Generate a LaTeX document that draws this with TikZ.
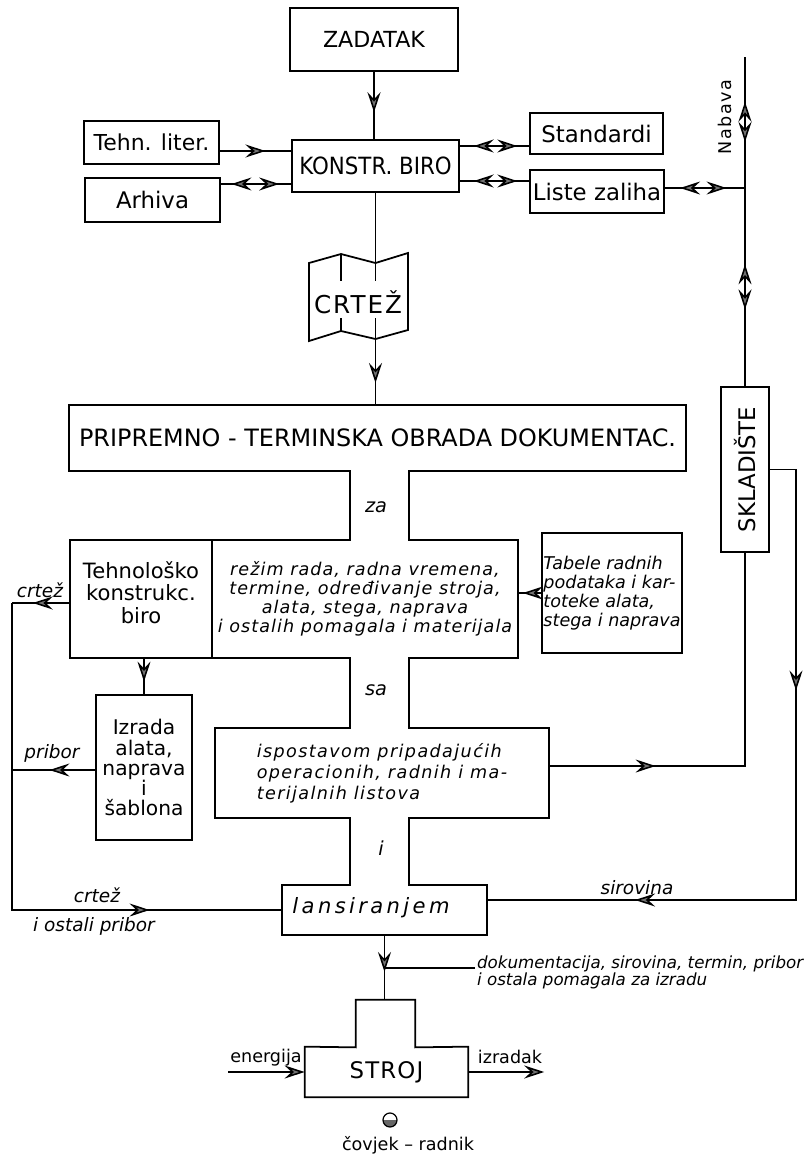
\documentclass[tikz,border=0pt]{standalone}
\usepackage{fontspec}
\setmainfont{DejaVu Sans}
\usetikzlibrary{arrows.meta,calc,decorations.markings}

\tikzset{
  flowtip/.tip={Stealth[length=4mm, width=2.6mm, inset=1.4mm, fill=black!55]},
  chartbox/.style={draw, line width=1pt, inner sep=1pt, align=center},
  region/.style={inner sep=0pt, align=center},
  frame/.style={line width=1pt, line join=miter},
  flow/.style={line width=0.9pt},
  tipat/.style={postaction={decorate, decoration={markings,
      mark=at position #1 with {\arrow{flowtip}}}}},
  tipback/.style={postaction={decorate, decoration={markings,
      mark=at position #1 with {\arrowreversed{flowtip}}}}},
  twoway/.style 2 args={tipback=#1, tipat=#2},
  plainlabel/.style={inner sep=1pt, align=center, font=\fontsize{10}{11}\selectfont},
  notelabel/.style={inner sep=1pt, align=center, font=\fontsize{10.5}{12}\selectfont\itshape},
}

\begin{document}
\begin{tikzpicture}[x=0.2mm, y=-0.2mm]
  \useasboundingbox (0,0) rectangle (811,1157);

  % upper row: task, design office and its sources
  \node[chartbox, minimum width=33.6mm, minimum height=12.6mm, font=\fontsize{12.6}{14}\selectfont] (zadatak) at (374,39.5) {ZADATAK};
  \node[chartbox, minimum width=33.4mm, minimum height=10.4mm, font=\fontsize{13.5}{15}\selectfont\addfontfeature{FakeStretch=0.9}] (konstr) at (375.5,166) {KONSTR. BIRO};
  \node[chartbox, minimum width=27mm, minimum height=8.6mm, font=\fontsize{12.5}{14}\selectfont] (tehn) at (151.5,142.5) {Tehn. liter.};
  \node[chartbox, minimum width=27mm, minimum height=8.8mm, font=\fontsize{13}{15}\selectfont] (arhiva) at (152.5,200) {Arhiva};
  \node[chartbox, minimum width=26.6mm, minimum height=8.2mm, font=\fontsize{13}{15}\selectfont] (standardi) at (596.5,133.5) {Standardi};
  \node[chartbox, minimum width=26.8mm, minimum height=8.6mm, font=\fontsize{13}{15}\selectfont] (liste) at (597,191.5) {Liste zaliha};
  \node[rotate=90, inner sep=1pt, font=\fontsize{10}{12}\selectfont\addfontfeature{LetterSpace=8}] (nabava) at (725,117) {Nabava};
  \coordinate (nabavaTop) at (745,57);

  % folded drawing
  \coordinate (crtezTop) at (375.5,263);
  \coordinate (crtezBot) at (375.5,339);
  \draw[frame] (309,263) -- (341,254) -- (crtezTop) -- (408,253) -- (408,330)
    -- (crtezBot) -- (341,331) -- (309,341) -- cycle;
  \draw[line width=0.6pt] (341,254) -- (341,281) (341,318) -- (341,331)
    (crtezTop) -- (375.5,281) (375.5,318) -- (crtezBot);
  \node[inner sep=1pt, font=\fontsize{14}{16}\selectfont\addfontfeature{LetterSpace=8}] (crtez) at (358,302) {CRTEŽ};

  % processing channel
  \coordinate (chL) at (350,0);
  \coordinate (chR) at (409,0);
  \node[region, minimum width=123.4mm, minimum height=13.2mm, font=\fontsize{13.6}{15}\selectfont] (pripremno) at (377.5,438) {PRIPREMNO - TERMINSKA OBRADA DOKUMENTAC.};
  \node[region, minimum width=28.4mm, minimum height=23.6mm] (tehno) at (141,599) {};
  \node[font=\fontsize{12}{12.8}\selectfont, align=center, inner sep=0pt] (tehnotxt) at (141,592.5) {Tehnološko\\konstrukc.\\biro};
  \node[region, minimum width=61.2mm, minimum height=23.6mm, font=\fontsize{10}{10.8}\selectfont\itshape\addfontfeature{LetterSpace=6}] (rezim) at (365,599) {režim rada, radna vremena,\\termine, određivanje stroja,\\alata, stega, naprava\\i ostalih pomagala i materijala};
  \node[region, minimum width=66.8mm, minimum height=18mm, align=left, font=\fontsize{10}{12}\selectfont\itshape\addfontfeature{LetterSpace=8}] (ispostav) at (382,773) {ispostavom pripadajućih\\operacionih, radnih i ma-\\terijalnih listova};
  \node[region, minimum width=41mm, minimum height=10mm] (lansir) at (384.5,910) {};
  \node[inner sep=0pt, font=\fontsize{12}{14}\selectfont\itshape\addfontfeature{LetterSpace=16}] (lansirtxt) at (371,908) {lansiranjem};

  \draw[frame] (pripremno.north west) -- (pripremno.north east) -- (pripremno.south east)
    -- (pripremno.south -| chR) -- (rezim.north -| chR) -- (rezim.north east) -- (rezim.south east)
    -- (rezim.south -| chR) -- (ispostav.north -| chR) -- (ispostav.north east) -- (ispostav.south east)
    -- (ispostav.south -| chR) -- (lansir.north -| chR) -- (lansir.north east) -- (lansir.south east)
    -- (lansir.south west) -- (lansir.north west) -- (lansir.north -| chL)
    -- (ispostav.south -| chL) -- (ispostav.south west) -- (ispostav.north west)
    -- (ispostav.north -| chL) -- (rezim.south -| chL) -- (tehno.south west) -- (tehno.north west)
    -- (rezim.north -| chL) -- (pripremno.south -| chL) -- (pripremno.south west) -- cycle;
  \draw[frame] (tehno.north east) -- (tehno.south east);

  \node[inner sep=1pt, font=\fontsize{11}{12}\selectfont\itshape] (za) at (376,507) {za};
  \node[inner sep=1pt, font=\fontsize{11}{12}\selectfont\itshape] (sa) at (376,690) {sa};
  \node[inner sep=1pt, font=\fontsize{11}{12}\selectfont\itshape] (ii) at (381,848) {i};

  % side boxes
  \node[chartbox, minimum width=27.2mm, minimum height=24mm, align=left, font=\fontsize{10}{10.8}\selectfont\itshape] (tabele) at (612,593) {Tabele radnih\\podataka i kar-\\toteke alata,\\stega i naprava};
  \node[chartbox, minimum width=9.6mm, minimum height=33mm, font=\fontsize{13}{15}\selectfont] (skladiste) at (745,469.5) {\rotatebox{90}{SKLADIŠTE}};
  \node[chartbox, minimum width=19.2mm, minimum height=29mm, font=\fontsize{11.5}{11.4}\selectfont] (izrada) at (144,767.5) {Izrada\\alata,\\naprava\\i\\šablona};

  % machine
  \node[region, minimum width=32.6mm, minimum height=10mm, font=\fontsize{13}{15}\selectfont\addfontfeature{LetterSpace=5}] (stroj) at (386.5,1072) {STROJ};
  \node[region, minimum width=11.8mm, minimum height=9.4mm] (strojtop) at (385.5,1023.5) {};
  \draw[frame] (stroj.north west) -- (stroj.south west) -- (stroj.south east) -- (stroj.north east)
    -- (strojtop.south east) -- (strojtop.north east) -- (strojtop.north west) -- (strojtop.south west) -- cycle;
  \node[circle, draw, line width=0.7pt, minimum size=2.8mm, inner sep=0pt,
    path picture={\fill[black!60] (path picture bounding box.west) rectangle (path picture bounding box.south east);}] (radnik) at (390,1120) {};
  \node[plainlabel, font=\fontsize{10}{11}\selectfont] (radniktxt) at (408,1145) {čovjek – radnik};

  % labels on the return lines
  \node[notelabel] (crtezA) at (40,590) {crtež};
  \node[notelabel] (priborA) at (52,753) {pribor};
  \node[notelabel] (crtezB) at (97,895) {crtež};
  \node[notelabel] (priborB) at (94,926) {i ostali pribor};
  \node[notelabel] (sirovina) at (637,888) {sirovina};
  \node[anchor=west, align=left, inner sep=1pt, font=\fontsize{9.5}{9.8}\selectfont\itshape] (dok) at (475,972) {dokumentacija, sirovina, termin, pribor\\i ostala pomagala za izradu};
  \node[plainlabel] (energija) at (266,1058) {energija};
  \node[plainlabel] (izradak) at (510,1057) {izradak};

  % connectors
  \draw[flow, tipat=0.6] (zadatak.south) -- (zadatak.south |- konstr.north);
  \coordinate (tehnOut) at ($(tehn.east)+(0,8.5)$);
  \draw[flow, tipat=0.64] (tehnOut) -- (tehnOut -| konstr.west);
  \coordinate (arhOut) at ($(arhiva.east)+(0,-16)$);
  \draw[flow, twoway={0.15}{0.83}] (arhOut) -- (arhOut -| konstr.west);
  \coordinate (stdIn) at ($(konstr.east)+(0,-20)$);
  \draw[flow, twoway={0.2}{0.83}] (stdIn) -- (stdIn -| standardi.west);
  \coordinate (lstIn) at ($(konstr.east)+(0,15)$);
  \draw[flow, twoway={0.2}{0.83}] (lstIn) -- (lstIn -| liste.west);
  \coordinate (lstOut) at ($(liste.east)+(0,-3.5)$);
  \draw[flow, twoway={0.19}{0.77}] (lstOut) -- (lstOut -| nabavaTop);
  \draw[flow, twoway={0.136}{0.258}, twoway={0.63}{0.767}] (nabavaTop) -- (nabavaTop |- skladiste.north);

  \draw[flow] (konstr.south) -- (crtezTop);
  \draw[flow, tipat=0.67] (crtezBot) -- (crtezBot |- pripremno.north);
  \draw[flow, tipat=0.8] (tabele.west) -- (tabele.west -| rezim.east);

  \coordinate (loopX) at (12,0);
  \coordinate (tehnoOut) at ($(tehno.west)+(0,4)$);
  \draw[flow, tipat=0.64] (tehnoOut) -- (tehnoOut -| loopX);
  \draw[flow, tipat=0.771] (tehnoOut -| loopX) |- (lansir.west);
  \coordinate (izrOut) at ($(izrada.west)+(0,2.5)$);
  \draw[flow, tipat=0.55] (izrOut) -- (izrOut -| loopX);
  \draw[flow, tipat=0.65] (izrada.north |- tehno.south) -- (izrada.north);

  \coordinate (ispOut) at ($(ispostav.east)+(0,-7)$);
  \draw[flow, tipat=0.26] (ispOut) -| (skladiste.south);
  \coordinate (sirCorner) at (796,900);
  \draw[flow, tipat=0.323, tipat=0.807] (skladiste.east) -| (sirCorner) -- (sirCorner -| lansir.east);

  \draw[flow, tipat=0.57] (lansir.south) -- (lansir.south |- strojtop.north);
  \coordinate (dokIn) at ($(dok.west)+(0,-4)$);
  \draw[flow] (dokIn) -- (dokIn -| lansir.south);
  \draw[flow, -{flowtip}] (energija.south west |- stroj.west) -- (stroj.west);
  \draw[flow, -{flowtip}] (stroj.east) -- (stroj.east -| izradak.south east);
\end{tikzpicture}
\end{document}
